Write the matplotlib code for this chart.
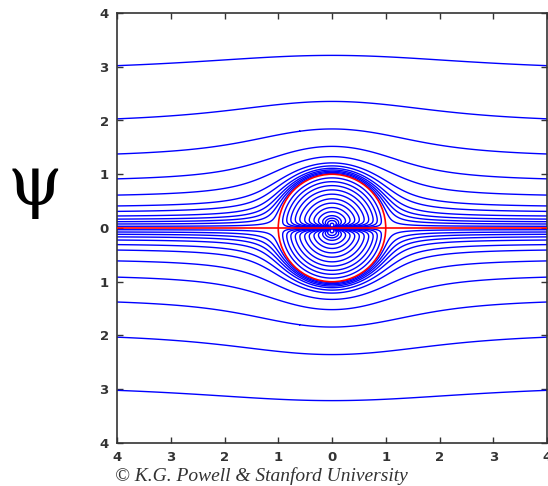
import numpy as np
import matplotlib
matplotlib.use("Agg")
import matplotlib.pyplot as plt
from matplotlib.patches import Circle

# Stream-function contour levels
outer_levels = [2.9, 1.93, 1.3, 0.86, 0.575, 0.385, 0.29, 0.21, 0.155, 0.11, 0.07, 0.03]
inner_levels = [0.14, 0.30, 0.48, 0.70, 0.96, 1.3, 1.7, 2.25, 3.0, 4.1, 5.2, 6.6, 9.0, 13.0]
cylinder_radius = 1.0
tick_values = [-4, -3, -2, -1, 0, 1, 2, 3, 4]
tick_labels = ["4", "3", "2", "1", "0", "1", "2", "3", "4"]

fig = plt.figure(figsize=(5.48, 4.86), dpi=100)
ax = fig.add_axes([117/548, 43/486, 430/548, 430/486])

x = np.linspace(-4, 4, 481)
y = np.linspace(-4, 4, 481)
X, Y = np.meshgrid(x, y)
R2 = X**2 + Y**2
R2[R2 == 0] = 1e-12
R = np.sqrt(R2)
psi = Y * (1 - cylinder_radius**2 / R2)

# interior cells as rendered in the original (D-shaped loops flattened at the axis)
psi_in_field = np.sign(Y) * (cylinder_radius / R - R / cylinder_radius) * np.tanh(np.abs(Y) / 0.08)

psi_out = np.where(R2 >= cylinder_radius**2, psi, np.nan)
psi_in = np.where(R2 <= cylinder_radius**2, psi_in_field, np.nan)

lv_out = sorted([-v for v in outer_levels] + outer_levels)
lv_in = sorted([-v for v in inner_levels] + inner_levels)
ax.contour(X, Y, psi_out, levels=lv_out, colors="#0000ff", linewidths=1.0,
           linestyles="solid")
ax.contour(X, Y, psi_in, levels=lv_in, colors="#0000ff", linewidths=1.0,
           linestyles="solid")

ax.axhline(0, color="#ff0000", lw=1.2, zorder=3)
ax.add_patch(Circle((0, 0), cylinder_radius, fill=False, ec="#ff0000", lw=1.2, zorder=3))

ax.set_xlim(-4, 4)
ax.set_ylim(-4, 4)
ax.set_xticks(tick_values)
ax.set_xticklabels(tick_labels)
ax.set_yticks(tick_values)
ax.set_yticklabels(tick_labels)
ax.tick_params(direction="in", length=4, width=1, top=True, right=True,
               labelsize=9.5, colors="#333333", labelcolor="#333333", pad=6)
for lab in ax.get_xticklabels() + ax.get_yticklabels():
    lab.set_fontweight("bold")
for s in ax.spines.values():
    s.set_color("#333333")
    s.set_linewidth(1.2)

fig.text(35/548, 1 - 186/486, "ψ", fontsize=50, family="DejaVu Serif",
         ha="center", va="center", color="black")
fig.text(115/548, 1 - 476/486, "© K.G. Powell & Stanford University", fontsize=14,
         family="Liberation Serif", style="italic", ha="left", va="center", color="#333333")

fig.savefig("out.png", dpi=100)
